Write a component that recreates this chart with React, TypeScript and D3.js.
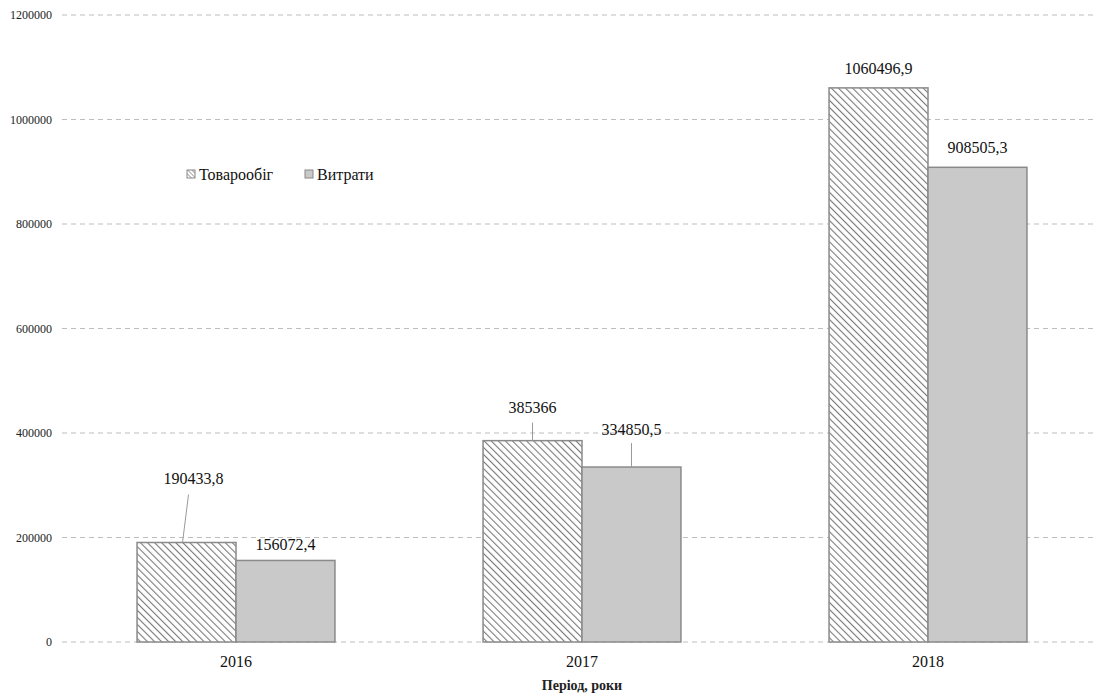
import React from "react";
import * as d3 from "d3";

const categories = ["2016", "2017", "2018"];
const series = ["Товарообіг", "Витрати"];
const turnover = [190433.8, 385366, 1060496.9];
const costs = [156072.4, 334850.5, 908505.3];
const turnoverLabels = ["190433,8", "385366", "1060496,9"];
const costsLabels = ["156072,4", "334850,5", "908505,3"];
const yTicks = [0, 200000, 400000, 600000, 800000, 1000000, 1200000];
const xTitle = "Період, роки";

const W = 1095;
const H = 696;
const left = 63;
const right = 1101;
const top = 15;
const bottom = 642;

const tLabelPos = [
  { dx: 7, dy: -58, lx1: 2, lx2: -4, leader: true },
  { dx: 0, dy: -28, lx1: 0, lx2: 0, leader: true },
  { dx: 0, dy: -14, lx1: 0, lx2: 0, leader: false },
];
const cLabelPos = [
  { dx: 0, dy: -10, leader: false },
  { dx: 0, dy: -32, leader: true },
  { dx: 0, dy: -14, leader: false },
];

export default function App() {
  const x = d3.scaleBand().domain(categories).range([left, right]).paddingInner(0.428).paddingOuter(0.214);
  const y = d3.scaleLinear().domain([0, 1200000]).range([bottom, top]);
  const bw = x.bandwidth() / 2;
  const font = "Liberation Serif";

  return (
    <div style={{ position: "absolute", left: 0, top: 0 }}>
      <svg width={W} height={H} style={{ display: "block", background: "#fff", fontFamily: font }}>
        <defs>
          <pattern id="hatch" patternUnits="userSpaceOnUse" width={5} height={5} patternTransform="rotate(-45)">
            <rect width={5} height={5} fill="#fff" />
            <line x1={0} y1={0} x2={0} y2={5} stroke="#7a7a7a" strokeWidth={2.2} />
          </pattern>
          <pattern id="hatchSmall" patternUnits="userSpaceOnUse" width={3} height={3} patternTransform="rotate(-45)">
            <rect width={3} height={3} fill="#fff" />
            <line x1={0} y1={0} x2={0} y2={3} stroke="#666" strokeWidth={1.2} />
          </pattern>
        </defs>
        {yTicks.map((t) => (
          <g key={t}>
            <line x1={62} x2={W} y1={y(t)} y2={y(t)} stroke="#bdbdbd" strokeWidth={1} strokeDasharray="5,4" />
            <text x={52} y={y(t)} dy="0.35em" textAnchor="end" fontSize={12} fill="#222" fontFamily={font}>
              {t}
            </text>
          </g>
        ))}
        {categories.map((c, i) => {
          const x0 = x(c)!;
          const tx = x0;
          const cx = x0 + bw;
          const ty = y(turnover[i]);
          const cy = y(costs[i]);
          const tp = tLabelPos[i];
          const cp = cLabelPos[i];
          return (
            <g key={c}>
              <rect x={tx} y={ty} width={bw} height={bottom - ty} fill="url(#hatch)" stroke="#8a8a8a" strokeWidth={1.5} />
              <rect x={cx} y={cy} width={bw} height={bottom - cy} fill="#c9c9c9" stroke="#8a8a8a" strokeWidth={1.5} />
              {tp.leader && (
                <line x1={tx + bw / 2 + tp.lx1} y1={ty + tp.dy + 10} x2={tx + bw / 2 + tp.lx2} y2={ty} stroke="#999" strokeWidth={1} />
              )}
              <text x={tx + bw / 2 + tp.dx} y={ty + tp.dy} textAnchor="middle" fontSize={16} fill="#111" fontFamily={font}>
                {turnoverLabels[i]}
              </text>
              {cp.leader && (
                <line x1={cx + bw / 2} y1={cy + cp.dy + 8} x2={cx + bw / 2} y2={cy} stroke="#999" strokeWidth={1} />
              )}
              <text x={cx + bw / 2} y={cy + cp.dy} textAnchor="middle" fontSize={16} fill="#111" fontFamily={font}>
                {costsLabels[i]}
              </text>
              <text x={x0 + bw} y={667} textAnchor="middle" fontSize={16} fill="#111" fontFamily={font}>
                {c}
              </text>
            </g>
          );
        })}
        <text x={582} y={690} textAnchor="middle" fontSize={14} fontWeight={600} fill="#222" fontFamily={font}>
          {xTitle}
        </text>
        <g>
          <rect x={187} y={170} width={8} height={8} fill="url(#hatchSmall)" stroke="#888" strokeWidth={1} />
          <text x={199} y={180} fontSize={16} fill="#111" fontFamily={font}>{series[0]}</text>
          <rect x={305} y={170} width={8} height={8} fill="#c9c9c9" stroke="#888" strokeWidth={1} />
          <text x={317} y={180} fontSize={16} fill="#111" fontFamily={font}>{series[1]}</text>
        </g>
      </svg>
    </div>
  );
}
